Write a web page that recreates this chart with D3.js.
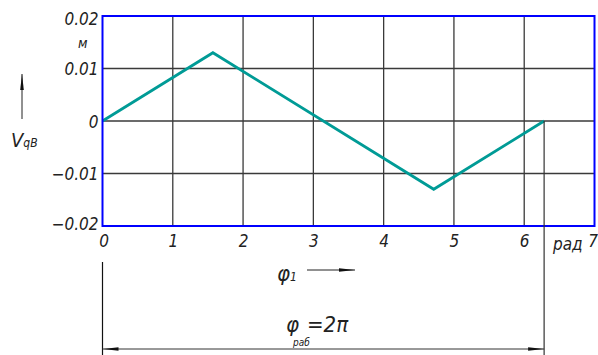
<!DOCTYPE html>
<html>
<head>
<meta charset="utf-8">
<script src="https://cdn.jsdelivr.net/npm/d3@7"></script>
<style>
  html, body { margin: 0; padding: 0; background: #fff; }
  svg text { font-family: "DejaVu Sans Condensed", "Liberation Sans Narrow", sans-serif; font-style: italic; fill: #222; }
</style>
</head>
<body>
<svg id="chart" width="598" height="355"></svg>
<script>
// Displacement of the follower over one working cycle (rad -> m)
const phiValues = [0, Math.PI / 2, 3 * Math.PI / 2, 2 * Math.PI];
const vValues = [0, 0.013, -0.013, 0];
const xTicks = [0, 1, 2, 3, 4, 5, 6];
const yTicks = [-0.02, -0.01, 0, 0.01, 0.02];
const yTickLabels = ["\u22120.02", "\u22120.01", "0", "0.01", "0.02"];

const svg = d3.select("#chart");
const m = { left: 102.5, right: 594.5, top: 16, bottom: 226 };

const x = d3.scaleLinear().domain([0, 7]).range([m.left, m.right]);
const y = d3.scaleLinear().domain([-0.02, 0.02]).range([m.bottom, m.top]);

// arrow heads
const defs = svg.append("defs");
defs.append("marker").attr("id", "arr").attr("viewBox", "0 0 16 6")
  .attr("refX", 16).attr("refY", 3).attr("markerWidth", 16).attr("markerHeight", 6)
  .attr("markerUnits", "userSpaceOnUse").attr("orient", "auto-start-reverse")
  .append("path").attr("d", "M0,1.2 L16,3 L0,4.8 Z").attr("fill", "#111");

// grid
const grid = svg.append("g").attr("stroke", "#3a3a3a").attr("stroke-width", 1.3);
grid.selectAll("line.v").data(xTicks.slice(1)).join("line")
  .attr("x1", d => x(d)).attr("x2", d => x(d)).attr("y1", m.top).attr("y2", m.bottom);
grid.selectAll("line.h").data(yTicks.slice(1, -1)).join("line")
  .attr("x1", m.left).attr("x2", m.right).attr("y1", d => y(d)).attr("y2", d => y(d));

// curve
svg.append("path")
  .datum(phiValues.map((p, i) => [p, vValues[i]]))
  .attr("fill", "none").attr("stroke", "#009b96").attr("stroke-width", 2.8)
  .attr("d", d3.line().x(d => x(d[0])).y(d => y(d[1])));

// frame
svg.append("rect").attr("x", m.left).attr("y", m.top)
  .attr("width", m.right - m.left).attr("height", m.bottom - m.top)
  .attr("fill", "none").attr("stroke", "#0000ff").attr("stroke-width", 2);

// y axis labels
const yAxis = d3.axisLeft(y).tickValues(yTicks)
  .tickFormat((d, i) => yTickLabels[i]).tickSize(0).tickPadding(4);
const gy = svg.append("g").attr("transform", `translate(${m.left},0)`).call(yAxis);
gy.select(".domain").remove();
gy.selectAll("text").attr("font-size", 17).attr("fill", "#222")
  .attr("font-family", null).attr("dy", "0.36em");
gy.selectAll(".tick").filter(d => d === 0.02).select("text").attr("dy", "0.48em");
gy.selectAll(".tick").filter(d => d === -0.02).select("text").attr("dy", "0.2em");

// x axis labels
const xAxis = d3.axisBottom(x).tickValues(xTicks.concat([7])).tickFormat(d3.format("d"))
  .tickSize(0).tickPadding(9);
const gx = svg.append("g").attr("transform", `translate(0,${m.bottom})`).call(xAxis);
gx.select(".domain").remove();
gx.selectAll("text").attr("font-size", 17).attr("fill", "#222").attr("font-family", null);
gx.selectAll(".tick").filter(d => d === 0).select("text").attr("dx", 1);
gx.selectAll(".tick").filter(d => d === 7).select("text").attr("dx", -2);

svg.append("text").attr("x", 553).attr("y", 250).attr("font-size", 17).text("рад");

// unit and variable name on the vertical axis
svg.append("text").attr("x", 78).attr("y", 48).attr("font-size", 14).text("м");
svg.append("line").attr("x1", 22).attr("x2", 22).attr("y1", 119).attr("y2", 74)
  .attr("stroke", "#222").attr("stroke-width", 1).attr("marker-end", "url(#arr)");
const vl = svg.append("text").attr("x", 11).attr("y", 147).attr("font-size", 20);
vl.append("tspan").text("V");
vl.append("tspan").attr("font-size", 12).attr("dy", 0).text("qB");

// variable name on the horizontal axis
const pl = svg.append("text").attr("x", 277).attr("y", 281).attr("font-size", 22);
pl.append("tspan").text("φ");
pl.append("tspan").attr("font-size", 12).text("1");
svg.append("line").attr("x1", 307).attr("x2", 355).attr("y1", 270).attr("y2", 270)
  .attr("stroke", "#222").attr("stroke-width", 1).attr("marker-end", "url(#arr)");

// working-angle dimension
const phiEnd = phiValues[phiValues.length - 1];
svg.append("line").attr("x1", x(0)).attr("x2", x(0)).attr("y1", 262).attr("y2", 355)
  .attr("stroke", "#111").attr("stroke-width", 1.2);
svg.append("line").attr("x1", x(phiEnd)).attr("x2", x(phiEnd)).attr("y1", y(0)).attr("y2", 355)
  .attr("stroke", "#333").attr("stroke-width", 1.2);
svg.append("line").attr("x1", x(0)).attr("x2", x(phiEnd)).attr("y1", 349).attr("y2", 349)
  .attr("stroke", "#333").attr("stroke-width", 1)
  .attr("marker-start", "url(#arr)").attr("marker-end", "url(#arr)");
svg.append("text").attr("x", 286).attr("y", 332).attr("font-size", 22).text("φ");
svg.append("text").attr("x", 293).attr("y", 346).attr("font-size", 10).text("раб");
svg.append("text").attr("x", 307).attr("y", 332).attr("font-size", 22).text("=2π");
</script>
</body>
</html>
